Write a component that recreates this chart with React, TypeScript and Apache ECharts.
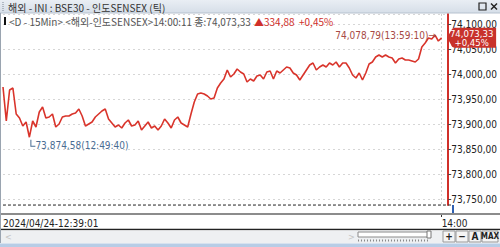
import React, { useEffect, useRef } from 'react';
import * as echarts from 'echarts';

const titleText = '해외 - INI : BSE30 - 인도SENSEX (틱)';
const headerInfo = '<D - 15Min> <해외-인도SENSEX>14:00:11 종:74,073,33';
const headerChange = '▲334,88  +0,45%';
const startLabel = '2024/04/24-12:39:01';
const endLabel = '14:00';
const minTime = '12:49:40';
const maxTime = '13:59:10';
const closePrice = 74073.33;
const changePct = 0.45;
const buttonLabels = ['+', '−', 'A', 'MAX'];

const prices = [
  73975, 73907, 73969, 73973, 73921, 73913, 73897, 73905, 73874.58, 73907,
  73895, 73925, 73935, 73913, 73915, 73921, 73895, 73901, 73915, 73917,
  73917, 73921, 73923, 73931, 73917, 73897, 73901, 73905, 73915, 73921,
  73927, 73931, 73911, 73903, 73895, 73899, 73893, 73903, 73909, 73897,
  73899, 73907, 73889, 73897, 73905, 73893, 73897, 73889, 73897, 73911,
  73903, 73893, 73909, 73915, 73903, 73899, 73895, 73921, 73945, 73961,
  73963, 73961, 73957, 73951, 73953, 73973, 73983, 73991, 74009, 73995,
  74001, 74011, 74005, 74001, 73985, 73991, 73987, 73997, 73999, 73991,
  74005, 74007, 73991, 74007, 74003, 74009, 74015, 74013, 74003, 73999,
  73989, 73999, 74009, 74019, 74023, 74009, 74015, 74019, 74015, 74023,
  74019, 74025, 74015, 74023, 74023, 74013, 73999, 73993, 74003, 73989,
  74003, 74021, 74025, 74035, 74039, 74035, 74039, 74035, 74033, 74023,
  74031, 74033, 74029, 74029, 74027, 74025, 74031, 74055, 74063, 74073,
  74071, 74078.79, 74067, 74073.33,
];

const fmt = (v: number) => {
  const [i, d] = v.toFixed(2).split('.');
  return i.replace(/\B(?=(\d{3})+(?!\d))/g, ',') + ',' + d;
};

const FONT = "'Liberation Sans Narrow', 'DejaVu Sans Condensed', 'Liberation Sans', Arial, sans-serif";
const KFONT = "'Noto Sans CJK KR', 'Liberation Sans', sans-serif";

export default function App() {
  const ref = useRef<HTMLDivElement>(null);
  useEffect(() => {
    if (!ref.current) return;
    const chart = echarts.init(ref.current, undefined, { renderer: 'svg' });
    const lastIdx = prices.length - 1;
    const cats = prices.map((_, i) => String(i));

    const buttons: any[] = [];
    const bx = [443, 456, 469, 482];
    const bw = [12, 12, 12, 16];
    buttonLabels.forEach((b, i) => {
      buttons.push({
        type: 'rect', z: 50,
        shape: { x: bx[i], y: 231, width: bw[i], height: 11 },
        style: { fill: '#f4f4f4', stroke: '#9a9a9a', lineWidth: 1 },
      });
      buttons.push({
        type: 'text', z: 51, x: bx[i] + bw[i] / 2, y: 236.5,
        style: { text: b, fill: '#222', font: `bold ${b === 'MAX' ? 8 : 10}px ${FONT}`, align: 'center', verticalAlign: 'middle' },
      });
    });

    const option: any = {
      animation: false,
      backgroundColor: '#ffffff',
      grid: { left: 3, right: 47, top: 14, bottom: 42 },
      xAxis: {
        type: 'category',
        data: cats,
        boundaryGap: false,
        max: 135,
        offset: 9,
        axisLine: { show: false },
        axisTick: {
          show: true, length: 3, interval: (i: number) => i === lastIdx,
          lineStyle: { color: '#333' },
        },
        axisLabel: {
          interval: (i: number) => i === 0 || i === lastIdx,
          formatter: (_v: string, i: number) => (i === 0 ? startLabel : endLabel),
          align: 'left', margin: 4, fontSize: 10, color: '#222', fontFamily: FONT,
        },
        splitLine: {
          show: true, interval: (i: number) => i === lastIdx,
          lineStyle: { color: '#cfcfcf', type: [2, 2] },
        },
      },
      yAxis: {
        type: 'value', position: 'right',
        min: 73739, max: 74121, minInterval: 50, maxInterval: 50, splitNumber: 8,
        axisLine: { show: true, lineStyle: { color: '#d0302a', width: 2 } },
        axisTick: { show: true, length: 3, lineStyle: { color: '#444' } },
        axisLabel: {
          showMinLabel: false, showMaxLabel: false, formatter: (v: number) => fmt(v),
          margin: 3, fontSize: 10, lineHeight: 9, color: '#222', fontFamily: FONT,
        },
        splitLine: { show: true, lineStyle: { color: '#d6d6d6', type: [2, 3] } },
      },
      series: [
        {
          type: 'line',
          data: prices,
          symbol: 'none',
          lineStyle: { color: '#d9342b', width: 1.6 },
          itemStyle: { color: '#d9342b' },
          emphasis: { disabled: true },
          markPoint: {
            symbol: 'circle', symbolSize: 0, silent: true,
            data: [
              {
                type: 'min',
                symbol: 'path://M0,0 L1,0 L1,6 L5,6 L5,7 L0,7 Z',
                symbolSize: [5, 7],
                symbolOffset: [3.5, 6],
                itemStyle: { color: '#4a6c92' },
                label: { show: false },
              },
              {
                type: 'min',
                label: {
                  show: true, position: 'inside', align: 'left', verticalAlign: 'middle',
                  offset: [6, 8], color: '#4a6c92', fontSize: 10, fontFamily: FONT,
                  formatter: (p: any) => fmt(p.value) + '(' + minTime + ')',
                },
              },
              {
                type: 'max',
                label: {
                  show: true, position: 'inside', align: 'right', verticalAlign: 'middle',
                  offset: [1, 0], color: '#a84a44', fontSize: 10, fontFamily: FONT,
                  formatter: (p: any) => fmt(p.value) + '(' + maxTime + ')→',
                },
              },
              {
                coord: [String(lastIdx), closePrice],
                value: closePrice,
                symbol: 'path://M0,10 L5,1 L7,0 L49,0 L49,20 L7,20 L5,19 Z',
                symbolSize: [49, 20],
                symbolOffset: [30, 0],
                itemStyle: { color: '#c8322b' },
                label: {
                  show: true, position: 'inside', align: 'center', verticalAlign: 'middle',
                  color: '#ffffff', fontSize: 9.5, lineHeight: 9.5, fontFamily: FONT,
                  formatter: () => fmt(closePrice) + '\n+' + changePct.toFixed(2).replace('.', ',') + '%',
                },
              },
            ],
          },
        },
      ],
      graphic: [
        // title bar
        {
          type: 'rect', z: 50, shape: { x: 0, y: 0, width: 500, height: 13 },
          style: {
            fill: new echarts.graphic.LinearGradient(0, 0, 0, 1, [
              { offset: 0, color: '#e9eef4' }, { offset: 1, color: '#d6dee8' },
            ]),
          },
        },
        { type: 'line', z: 51, shape: { x1: 0, y1: 13, x2: 500, y2: 13 }, style: { stroke: '#b7c2cf', lineWidth: 1 } },
        { type: 'line', z: 51, shape: { x1: 3, y1: 2, x2: 3, y2: 11 }, style: { stroke: '#7d8794', lineWidth: 1, lineDash: [1, 1] } },
        {
          type: 'text', z: 51, x: 8, y: 7,
          style: { text: titleText, fill: '#333', font: `10px ${KFONT}`, verticalAlign: 'middle' },
        },
        { type: 'rect', z: 51, shape: { x: 479, y: 3, width: 7, height: 7 }, style: { fill: 'none', stroke: '#222', lineWidth: 1.2 } },
        { type: 'line', z: 51, shape: { x1: 491, y1: 3.5, x2: 497, y2: 9.5 }, style: { stroke: '#222', lineWidth: 1.4 } },
        { type: 'line', z: 51, shape: { x1: 497, y1: 3.5, x2: 491, y2: 9.5 }, style: { stroke: '#222', lineWidth: 1.4 } },
        // header
        { type: 'rect', z: 51, shape: { x: 4, y: 17, width: 2, height: 8 }, style: { fill: '#111' } },
        {
          type: 'text', z: 51, x: 9, y: 21,
          style: { text: headerInfo, fill: '#555', font: `10px ${KFONT}`, verticalAlign: 'middle' },
        },
        {
          type: 'text', z: 51, x: 254, y: 21,
          style: { text: headerChange, fill: '#d0302a', font: `10px ${KFONT}`, verticalAlign: 'middle' },
        },
        // left border
        { type: 'line', z: 51, shape: { x1: 0.5, y1: 13, x2: 0.5, y2: 243 }, style: { stroke: '#9aa4b0', lineWidth: 1 } },
        // bottom dashed line of plot
        { type: 'line', z: 40, shape: { x1: 3, y1: 205, x2: 452, y2: 205 }, style: { stroke: '#333', lineWidth: 1, lineDash: [3, 2] } },
        // blue segment of axis
        { type: 'line', z: 40, shape: { x1: 453, y1: 205, x2: 453, y2: 213 }, style: { stroke: '#2f5fb0', lineWidth: 2 } },
        // x axis bar
        { type: 'line', z: 40, shape: { x1: 0, y1: 214, x2: 500, y2: 214 }, style: { stroke: '#8c8c8c', lineWidth: 2 } },
        { type: 'line', z: 40, shape: { x1: 0, y1: 229.5, x2: 500, y2: 229.5 }, style: { stroke: '#222', lineWidth: 1.5 } },
        // scroll area
        { type: 'rect', z: 40, shape: { x: 0, y: 230.5, width: 500, height: 13 }, style: { fill: '#eef0f2' } },
        { type: 'text', z: 41, x: 5, y: 236.5, style: { text: '<', fill: '#c4c4c4', font: `9px ${FONT}`, verticalAlign: 'middle' } },
        { type: 'text', z: 41, x: 348, y: 236.5, style: { text: '>', fill: '#c4c4c4', font: `9px ${FONT}`, verticalAlign: 'middle' } },
        { type: 'rect', z: 41, shape: { x: 358, y: 232, width: 71, height: 5 }, style: { fill: '#ffffff', stroke: '#8a8a8a', lineWidth: 1 } },
        { type: 'rect', z: 42, shape: { x: 427, y: 231, width: 4, height: 7 }, style: { fill: '#ffffff', stroke: '#777', lineWidth: 1 } },
        { type: 'line', z: 41, shape: { x1: 358, y1: 240.5, x2: 430, y2: 240.5 }, style: { stroke: '#8a8a8a', lineWidth: 2, lineDash: [1, 2] } },
        ...buttons,
        // bottom band
        { type: 'rect', z: 40, shape: { x: 0, y: 243.5, width: 500, height: 4 }, style: { fill: '#b7cde6' } },
      ],
    };
    chart.setOption(option);
    return () => chart.dispose();
  }, []);
  return <div ref={ref} style={{ width: 500, height: 247, position: 'fixed', left: 0, top: 0 }} />;
}
